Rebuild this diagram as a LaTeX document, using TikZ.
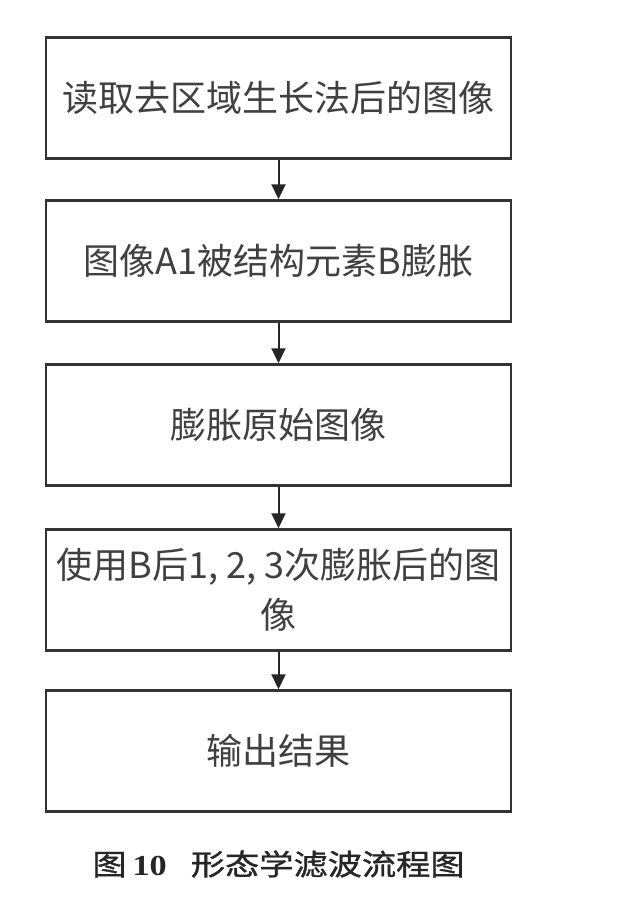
\documentclass[tikz,border=0pt]{standalone}
\usepackage{fontspec}
\usepackage{tikz}
\usetikzlibrary{arrows.meta,positioning}
\newfontfamily\cjk{Noto Sans CJK SC}
\newfontfamily\capcjk[FakeStretch=1.18,FakeBold=1.2]{Noto Sans CJK SC}
\newfontfamily\capnum[FakeStretch=1.18]{Liberation Serif}

\begin{document}
\begin{tikzpicture}
    [box/.style={
      rectangle,
      minimum width=465pt,
      minimum height=121pt,
      node distance=163pt,
      inner sep=0pt,
      draw=black!80,line width=2.5pt,fill=white,
      text=black!75,align=center,
      font=\cjk\fontsize{36pt}{50pt}\selectfont
      },
    flow/.style={-{Triangle[length=15pt,width=14pt]}, line width=2pt, draw=black!85}]

    \useasboundingbox (0,0) rectangle (625pt,-905pt);

    \node (read)[box] at (278.5pt,-98pt) {读取去区域生长法后的图像};
    \node (dilate)[box, below of=read] {图像A1被结构元素B膨胀};
    \node (orig)[box, below of=dilate, yshift=-1pt] {膨胀原始图像};
    \node (multi)[box, below of=orig, yshift=-2pt] {使用B后1, 2, 3次膨胀后的图\\像};
    \node (out)[box, below of=multi, yshift=2pt] {输出结果};

    \draw[flow] (read.south) -- (dilate.north);
    \draw[flow] (dilate.south) -- (orig.north);
    \draw[flow] (orig.south) -- (multi.north);
    \draw[flow] (multi.south) -- (out.north);

    \node (caption)[text=black!85, font=\fontsize{29pt}{34pt}\selectfont] at (278.5pt,-864pt)
      {{\capcjk 图}\hspace{6pt}{\capnum\bfseries 10}\hspace{24pt}{\capcjk 形态学滤波流程图}};

  \end{tikzpicture}
\end{document}
